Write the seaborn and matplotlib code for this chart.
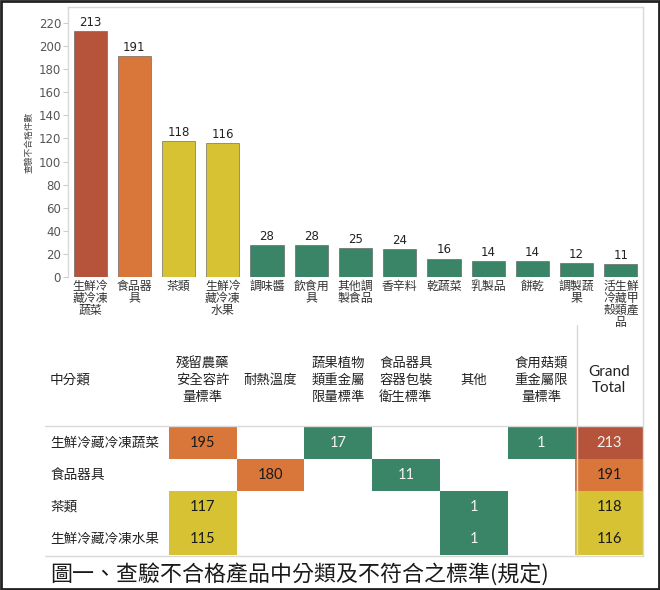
import numpy as np
import pandas as pd
import matplotlib
matplotlib.use("Agg")
import matplotlib.pyplot as plt
from matplotlib.colors import ListedColormap, BoundaryNorm
from matplotlib.lines import Line2D
from matplotlib.transforms import blended_transform_factory
import seaborn as sns

# ---------------- data ----------------
bar_categories = ["生鮮冷\n藏冷凍\n蔬菜", "食品器\n具", "茶類", "生鮮冷\n藏冷凍\n水果", "調味醬",
                  "飲食用\n具", "其他調\n製食品", "香辛料", "乾蔬菜", "乳製品", "餅乾",
                  "調製蔬\n果", "活生鮮\n冷藏甲\n殼類產\n品"]
bar_counts = [213, 191, 118, 116, 28, 28, 25, 24, 16, 14, 14, 12, 11]
y_ticks = [0, 20, 40, 60, 80, 100, 120, 140, 160, 180, 200, 220]
y_label = "查驗不合格件數"

row_labels = ["生鮮冷藏冷凍蔬菜", "食品器具", "茶類", "生鮮冷藏冷凍水果"]
col_labels = ["殘留農藥\n安全容許\n量標準", "耐熱溫度", "蔬果植物\n類重金屬\n限量標準",
              "食品器具\n容器包裝\n衛生標準", "其他", "食用菇類\n重金屬限\n量標準", "Grand\nTotal"]
row_header = "中分類"
table_values = [
    [195, np.nan, 17, np.nan, np.nan, 1, 213],
    [np.nan, 180, np.nan, 11, np.nan, np.nan, 191],
    [117, np.nan, np.nan, np.nan, 1, np.nan, 118],
    [115, np.nan, np.nan, np.nan, 1, np.nan, 116],
]
caption = "圖一、查驗不合格產品中分類及不符合之標準(規定)"

# colour bins
bin_edges = [0, 100, 150, 200, 260]
bin_colors = ["#3A8467", "#D6C233", "#D9773B", "#B5543B"]

# ---------------- style ----------------
sns.set_theme(style="white")
CJK = ["Noto Sans CJK TC", "DejaVu Sans"]
plt.rcParams["font.family"] = CJK

cmap = ListedColormap(bin_colors)
norm = BoundaryNorm(bin_edges, cmap.N)

W, H = 660, 590
fig = plt.figure(figsize=(6.6, 5.9), dpi=100)
fig.patch.set_facecolor("white")

# ---------------- bar chart ----------------
ax_left, ax_right, ax_top, ax_bot = 68, 643, 7, 277
ax = fig.add_axes([ax_left / W, 1 - ax_bot / H, (ax_right - ax_left) / W, (ax_bot - ax_top) / H])
bar_df = pd.DataFrame({"cat": bar_categories, "count": bar_counts})
bar_cols = [cmap(norm(v)) for v in bar_counts]
sns.barplot(data=bar_df, x="cat", y="count", hue="cat", palette=bar_cols, legend=False,
            width=0.75, ax=ax, edgecolor="#555555", linewidth=0.4, saturation=1)
ymax = 220 * (ax_bot - ax_top) / (ax_bot - 23)
ax.set_ylim(0, ymax)
ax.set_yticks(y_ticks)
ax.set_yticklabels([str(t) for t in y_ticks], fontfamily="DejaVu Sans", fontsize=8.5, color="#555555")
ax.tick_params(axis="y", which="both", left=True, length=3.5, width=0.8, color="#cccccc", pad=1.5)
ax.tick_params(axis="x", length=0, pad=2)
for lab in ax.get_xticklabels():
    lab.set_fontsize(8.6)
    lab.set_linespacing(0.9)
    lab.set_color("#333333")
    lab.set_verticalalignment("top")
ax.set_xlabel("")
ax.set_ylabel(y_label, fontsize=6.3, color="#444444")
ax.yaxis.set_label_coords(-0.060, 0.5)
for c in ax.containers:
    ax.bar_label(c, fontsize=8.5, color="#222222", padding=1.5, fontfamily="DejaVu Sans")
for s in ["left", "top", "right"]:
    ax.spines[s].set_color("#d9d9d9")
    ax.spines[s].set_linewidth(1)
ax.spines["bottom"].set_visible(False)

# ---------------- table ----------------
t_left, t_right, t_top, t_bot = 169, 643, 427, 555
tax = fig.add_axes([t_left / W, 1 - t_bot / H, (t_right - t_left) / W, (t_bot - t_top) / H])
tdf = pd.DataFrame(table_values, index=row_labels, columns=col_labels)
sns.heatmap(tdf, mask=tdf.isna(), cmap=cmap, norm=norm, cbar=False, ax=tax,
            xticklabels=False, yticklabels=False, linewidths=0)
tax.set_xlabel("")
tax.set_ylabel("")
tax.tick_params(length=0)

for i, row in enumerate(table_values):
    for j, v in enumerate(row):
        if np.isnan(v):
            continue
        tc = "#f2f2f2" if (v < 100 or v > 200) else "#1a1a1a"
        tax.text(j + 0.5, i + 0.5, f"{int(v)}", ha="center", va="center",
                 fontsize=10.5, color=tc, fontfamily="Lato")

header_y = -1.47
for j, lab in enumerate(col_labels):
    if lab.startswith("Grand"):
        tax.text(j + 0.5, header_y, lab, ha="center", va="center", fontsize=11,
                 linespacing=1.15, color="#222222", fontfamily="Lato", clip_on=False)
    else:
        tax.text(j + 0.5, header_y, lab, ha="center", va="center", fontsize=9.6,
                 linespacing=1.3, color="#222222", clip_on=False)

tr = blended_transform_factory(fig.transFigure, tax.transData)
tax.text(50 / W, header_y, row_header, transform=tr, ha="left", va="center",
         fontsize=9.8, color="#222222", clip_on=False)
for i, lab in enumerate(row_labels):
    tax.text(50 / W, i + 0.5, lab, transform=tr, ha="left", va="center",
             fontsize=9.8, color="#222222", clip_on=False)

grid_c = "#d9d9d9"
fig.add_artist(Line2D([45 / W, 643 / W], [1 - 426 / H, 1 - 426 / H], color=grid_c, lw=1, transform=fig.transFigure))
fig.add_artist(Line2D([45 / W, 643 / W], [1 - 556 / H, 1 - 556 / H], color=grid_c, lw=1, transform=fig.transFigure))
fig.add_artist(Line2D([577 / W, 577 / W], [1 - 325 / H, 1 - 556 / H], color=grid_c, lw=1, transform=fig.transFigure))
fig.add_artist(Line2D([643 / W, 643 / W], [1 - 277 / H, 1 - 556 / H], color=grid_c, lw=1, transform=fig.transFigure))

# ---------------- caption ----------------
fig.text(50 / W, 1 - 574 / H, caption, ha="left", va="center", fontsize=15.8, color="#1a1a1a")

# outer border
fig.add_artist(plt.Rectangle((0.0015, 0.0017), 0.997, 0.9966, fill=False, edgecolor="#222222",
                             lw=2, transform=fig.transFigure))

fig.savefig("out.png", dpi=100, facecolor="white")
